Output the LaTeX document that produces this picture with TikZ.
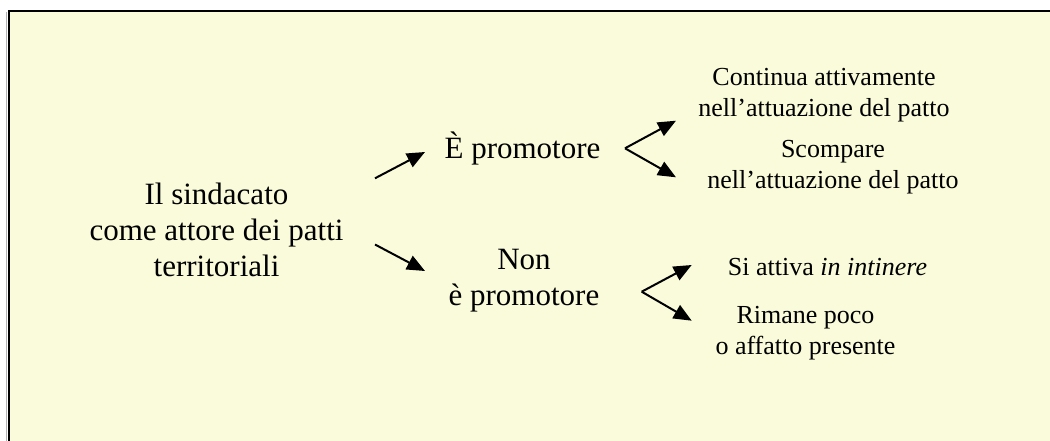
\documentclass[tikz,border=0pt]{standalone}
\usepackage{fontspec}
\setmainfont{Liberation Serif}
\usetikzlibrary{arrows.meta}
\definecolor{bgyellow}{RGB}{250,251,218}
\tikzset{
  bigtext/.style={inner sep=0pt, align=center, font=\fontsize{31}{36}\selectfont},
  smalltext/.style={inner sep=0pt, align=center, font=\fontsize{26}{31}\selectfont},
  arr/.style={line width=2pt, -{Triangle[length=18pt,width=15pt]}}
}
\begin{document}
\begin{tikzpicture}[x=1pt,y=-1pt]
\useasboundingbox (0,0) rectangle (1050,441);
% panel
\fill[bgyellow] (9,11) rectangle (1052,443);
\draw[gray!60, line width=1pt] (6.5,12) -- (6.5,443);
\draw[line width=2pt] (1052,11) -- (9,11) -- (9,443);
% texts
\node[bigtext] (root) at (216.5,229.5) {Il sindacato\\come attore dei patti\\territoriali};
\node[bigtext, anchor=base] (prom) at (522.5,158.3) {È promotore};
\node[bigtext] (nonprom) at (524,281) {Non\\è promotore};
\node[smalltext] (cont) at (824,94.9) {Continua attivamente\\nell’attuazione del patto};
\node[smalltext] (scomp) at (833,167.3) {Scompare\\nell’attuazione del patto};
\node[smalltext, anchor=base] (siatt) at (827.5,275) {Si attiva \textit{in intinere}};
\node[smalltext] (rim) at (805.5,332.9) {Rimane poco\\o affatto presente};
% arrow endpoints
\coordinate (a1s) at (375,178.3);
\coordinate (a1e) at (425,152);
\coordinate (a2s) at (375,244.5);
\coordinate (a2e) at (425,271);
\coordinate (f1) at (625,148.3);
\coordinate (f1a) at (676,120.7);
\coordinate (f1b) at (676,177.3);
\coordinate (f2) at (641.7,291.7);
\coordinate (f2a) at (691.7,265);
\coordinate (f2b) at (691.7,320.7);
\draw[arr] (a1s) -- (a1e);
\draw[arr] (a2s) -- (a2e);
\draw[arr] (f1) -- (f1a);
\draw[arr] (f1) -- (f1b);
\draw[arr] (f2) -- (f2a);
\draw[arr] (f2) -- (f2b);
\end{tikzpicture}
\end{document}
